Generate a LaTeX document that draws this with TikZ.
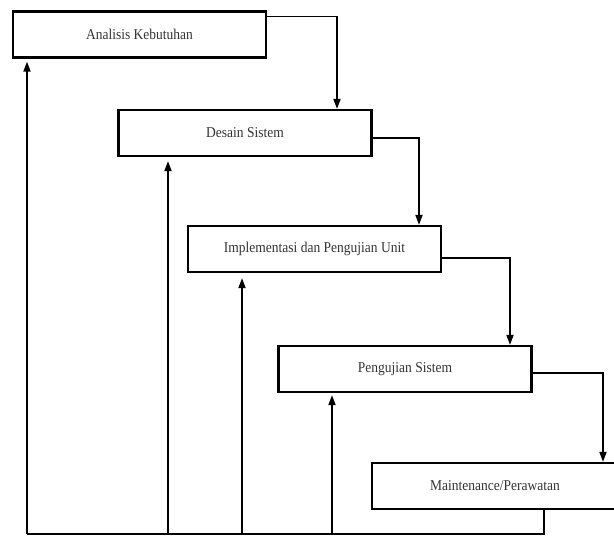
\documentclass[tikz,border=0pt]{standalone}
\usepackage{fontspec}
\setmainfont[FakeStretch=0.9]{Liberation Serif}
\usetikzlibrary{arrows.meta,calc}
\begin{document}
\begin{tikzpicture}[x=1pt,y=-1pt,
  phase/.style={draw,line width=2.2pt,minimum width=253pt,minimum height=46pt,inner sep=0pt,
    font=\fontsize{15}{17}\selectfont,text=black!80},
  link/.style={line width=1.7pt},
  arr/.style={link,-{Triangle[length=10pt,width=7pt]}}]
\useasboundingbox (0,0) rectangle (614,538);
\clip (0,0) rectangle (614,538);
\node[phase] (b1) at (139.5,34.5) {Analisis Kebutuhan};
\node[phase] (b2) at (245,133) {Desain Sistem};
\node[phase] (b3) at (314.5,249) {Implementasi dan Pengujian Unit};
\node[phase] (b4) at (405,369) {Pengujian Sistem};
\node[phase,minimum width=246pt] (b5) at (495,486) {Maintenance/Perawatan};
% forward flow
\draw[arr] ([yshift=-6pt]b1.north east) -| ([xshift=92pt]b2.north);
\draw[arr] ([yshift=-29pt]b2.north east) -| ([xshift=104.5pt]b3.north);
\draw[arr] ([yshift=-33pt]b3.north east) -| ([xshift=105pt]b4.north);
\draw[arr] ([yshift=-28pt]b4.north east) -| ([xshift=108pt]b5.north);
% feedback
\coordinate (out) at ([xshift=49pt]b5.south);
\coordinate (base) at (0,534);
\draw[link] (out) -- (out |- base) -- (27,534) coordinate (corner);
\draw[link,line width=2.4pt] (out |- base) -- (242,534);
\draw[arr,shorten >=3pt] (corner) -- (corner |- b1.south);
\draw[arr,shorten >=4pt] (168,534) -- (168,0 |- b2.south);
\draw[arr,shorten >=5pt] (242,534) -- (242,0 |- b3.south);
\draw[arr,shorten >=2pt] (332,534) -- (332,0 |- b4.south);
\end{tikzpicture}
\end{document}
